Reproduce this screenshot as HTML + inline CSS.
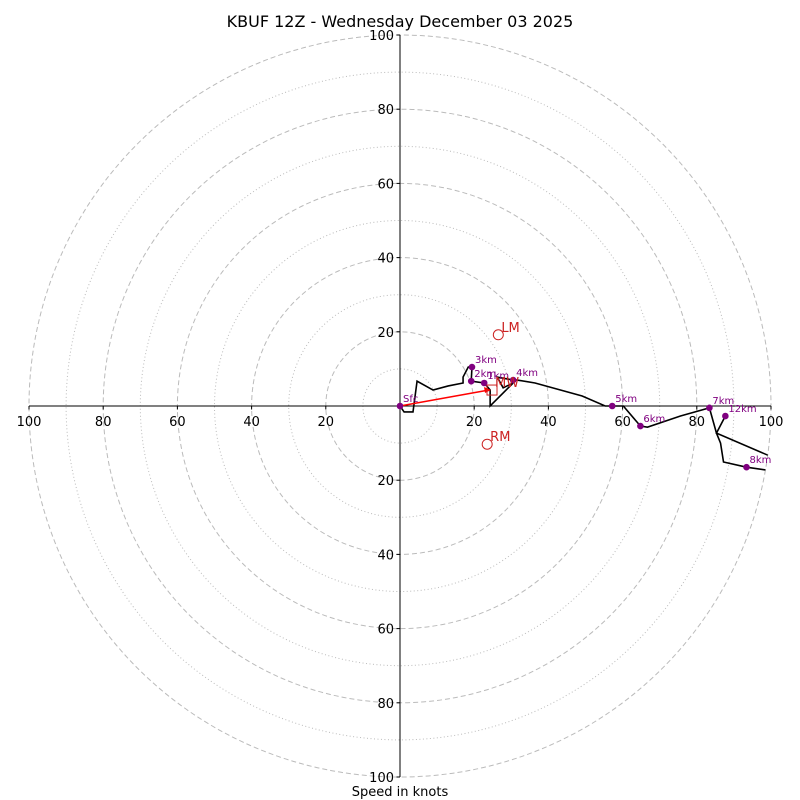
<!DOCTYPE html>
<html><head><meta charset="utf-8"><style>
body{margin:0;background:#fff;}
svg{display:block;font-family:"DejaVu Sans","Liberation Sans",sans-serif;}
</style></head><body>
<svg id="chart" width="800" height="800" viewBox="0 0 800 800">
<rect width="800" height="800" fill="#fff"/>
<defs><clipPath id="clip"><circle cx="400" cy="406" r="371"/></clipPath></defs>
<text x="400" y="27" text-anchor="middle" font-size="16" fill="#000">KBUF 12Z - Wednesday December 03 2025</text>
<text x="400" y="796" text-anchor="middle" font-size="13" fill="#000">Speed in knots</text>
<g id="rings"></g><g id="axes"></g><g id="series" clip-path="url(#clip)"></g><g id="marks"></g>
</svg>
<script>
const ringValues=[10,20,30,40,50,60,70,80,90,100];
const tickValues=[20,40,60,80,100];
const pathU=[0,1.1,3.5,4.6,8.9,13,17,17,18.4,19.4,19.2,22.7,24.3,24.3,30.5,27.8,26.2,30.5,31.6,36.4,49.1,55.3,60.2,64.8,66.7,75.6,83.4,85.3,86.4,87.2,93.4,100.4,106];
const pathV=[0,-1.6,-1.6,6.7,4.3,5.4,6.2,7.8,10.5,10.5,6.7,6.2,4.3,0,6.2,4.9,7.8,7,7,6.2,2.7,0,0,-5.4,-5.7,-2.7,-0.5,-7.3,-10,-15.1,-16.5,-17.5,-19];
const path2U=[106,100.4,85.3,87.7];
const path2V=[-16.3,-13.8,-7.3,-2.7];
const hgtLabels=["Sfc","1km","2km","3km","4km","5km","6km","7km","8km","12km"];
const hgtU=[0,22.7,19.2,19.4,30.5,57.2,64.8,83.4,93.4,87.7];
const hgtV=[0,6.2,6.7,10.5,7,0,-5.4,-0.5,-16.5,-2.7];
const motionLabels=["LM","RM","MW"];
const motionU=[26.5,23.5,24.8];
const motionV=[19.2,-10.3,4.3];
const CX=400,CY=406,S=3.71;
const X=u=>CX+u*S, Y=v=>CY-v*S;
const NS="http://www.w3.org/2000/svg";
function mk(tag,attrs,parent,text){const e=document.createElementNS(NS,tag);for(const k in attrs)e.setAttribute(k,attrs[k]);if(text!==undefined)e.textContent=text;document.getElementById(parent).appendChild(e);return e;}
ringValues.forEach(r=>{
 const c=mk('circle',{cx:CX,cy:CY,r:r*S,fill:'none',stroke:'#bbb','stroke-width':1,'stroke-dasharray':r%20===0?'5,3':'1,2.5'},'rings');
 
 
});
let a=mk('line',{x1:X(-100),y1:CY,x2:X(100),y2:CY,stroke:'#000','stroke-width':1},'axes');


a=mk('line',{x1:CX,y1:Y(100),x2:CX,y2:Y(-100),stroke:'#000','stroke-width':1},'axes');


tickValues.forEach(t=>{
 [-1,1].forEach(sg=>{
  let tk=mk('line',{x1:X(sg*t),y1:CY,x2:X(sg*t),y2:CY+3.5,stroke:'#000'},'axes');
  
  
  let l=mk('text',{x:X(sg*t),y:CY+20,'text-anchor':'middle','font-size':13,fill:'#000'},'axes',t);
  
  
  tk=mk('line',{x1:CX-3.5,y1:Y(sg*t),x2:CX,y2:Y(sg*t),stroke:'#000'},'axes');
  
  
  l=mk('text',{x:CX-6,y:Y(sg*t)+5,'text-anchor':'end','font-size':13,fill:'#000'},'axes',t);
  
  
 });
});
let p=mk('polyline',{points:pathU.map((u,i)=>X(u)+','+Y(pathV[i])).join(' '),fill:'none',stroke:'#000','stroke-width':1.6},'series');


p=mk('polyline',{points:path2U.map((u,i)=>X(u)+','+Y(path2V[i])).join(' '),fill:'none',stroke:'#000','stroke-width':1.6},'series');


let ar=mk('line',{x1:X(0),y1:Y(0),x2:X(motionU[2])-3,y2:Y(motionV[2]),stroke:'#f00','stroke-width':1.5},'marks');


ar=mk('polygon',{points:`${X(motionU[2])-1},${Y(motionV[2])} ${X(motionU[2])-8},${Y(motionV[2])-3} ${X(motionU[2])-7},${Y(motionV[2])+3}`,fill:'#f00'},'marks');


hgtLabels.forEach((h,i)=>{
 const d=mk('circle',{cx:X(hgtU[i]),cy:Y(hgtV[i]),r:3.3,fill:'#800080'},'marks');
 
 
 const t=mk('text',{x:X(hgtU[i])+3,y:Y(hgtV[i])-4,'font-size':10,fill:'#800080'},'marks',h);
 
 
});
motionLabels.forEach((m,i)=>{
 let s;
 if(m==='MW') s=mk('rect',{x:X(motionU[i])-5,y:Y(motionV[i])-5,width:10,height:10,fill:'none',stroke:'#c22','stroke-width':1},'marks');
 else s=mk('circle',{cx:X(motionU[i]),cy:Y(motionV[i]),r:5,fill:'none',stroke:'#c22','stroke-width':1},'marks');
 
 
 const t=mk('text',{x:X(motionU[i])+3,y:Y(motionV[i])-3,'font-size':13,fill:'#c22'},'marks',m);
 
 
});
</script>
</body></html>
